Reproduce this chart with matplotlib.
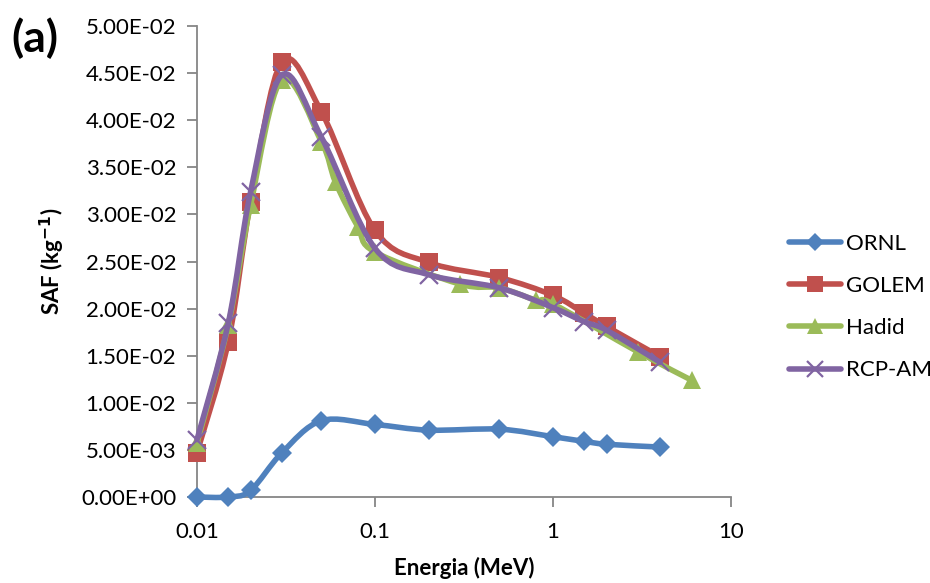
import numpy as np
import matplotlib
matplotlib.use("Agg")
import matplotlib.pyplot as plt
from matplotlib.path import Path
from matplotlib.patches import PathPatch
from matplotlib.lines import Line2D
from matplotlib.ticker import FixedLocator, FixedFormatter, NullLocator

plt.rcParams['font.family'] = ['Lato', 'DejaVu Sans']

# photon energies (MeV) and SAF values (kg^-1)
energy = [0.01, 0.015, 0.02, 0.03, 0.05, 0.1, 0.2, 0.5, 1, 1.5, 2, 4]
ornl = [0.0, 0.0, 0.0007, 0.0047, 0.0081, 0.0077, 0.0071, 0.0072, 0.0064, 0.0059, 0.0056, 0.0053]
golem = [0.0047, 0.0165, 0.0313, 0.0462, 0.0409, 0.0283, 0.0249, 0.0233, 0.0214, 0.0195, 0.0181, 0.0149]
rcp_am = [0.0061, 0.0185, 0.0324, 0.0448, 0.0382, 0.0264, 0.0236, 0.0222, 0.0201, 0.0186, 0.0177, 0.0143]

energy_hadid = [0.01, 0.015, 0.02, 0.03, 0.05, 0.06, 0.08, 0.1, 0.3, 0.5, 0.8, 1, 3, 6]
hadid = [0.0057, 0.0183, 0.031, 0.0443, 0.0377, 0.0334, 0.0287, 0.0260, 0.0226, 0.0222, 0.0209, 0.0205, 0.0154, 0.0124]

x_ticks = [0.01, 0.1, 1, 10]
x_labels = ['0.01', '0.1', '1', '10']
y_ticks = np.arange(0, 0.0501, 0.005)


def smooth_path(xs, ys):
    # Bezier curve through the points, built in log10(x) space
    p = np.column_stack([np.log10(xs), ys])
    n = len(p)
    verts = [p[0]]
    codes = [Path.MOVETO]
    for i in range(n - 1):
        prev = p[i - 1] if i > 0 else p[i]
        nxt = p[i + 2] if i + 2 < n else p[i + 1]
        c1 = p[i] + (p[i + 1] - prev) / 6.0
        c2 = p[i + 1] - (nxt - p[i]) / 6.0
        verts += [c1, c2, p[i + 1]]
        codes += [Path.CURVE4] * 3
    verts = np.array(verts)
    verts[:, 0] = 10 ** verts[:, 0]
    return Path(verts, codes)


series = [
    ('ORNL', energy, ornl, '#4F81BD', 'D', 10.5),
    ('GOLEM', energy, golem, '#C0504D', 's', 13.5),
    ('Hadid', energy_hadid, hadid, '#9BBB59', '^', 13.5),
    ('RCP-AM', energy, rcp_am, '#8064A2', 'x', 13.5),
]

fig = plt.figure(figsize=(9.3, 5.83), dpi=100)
ax = fig.add_axes([197 / 930, 1 - 497 / 583, (731 - 197) / 930, (497 - 26) / 583])
ax.set_xscale('log')
ax.set_xlim(0.01, 10)
ax.set_ylim(0, 0.05)

handles = []
for k, (name, xs, ys, col, mk, ms) in enumerate(series):
    z = 3 + 2 * k
    ax.add_patch(PathPatch(smooth_path(xs, ys), facecolor='none', edgecolor=col,
                           lw=4.0, capstyle='round', joinstyle='round',
                           zorder=z, clip_on=False))
    ax.plot(xs, ys, linestyle='none', marker=mk, ms=ms, mew=1.6 if mk == 'x' else 0,
            color=col, zorder=z + 1, clip_on=False)
    handles.append(Line2D([], [], color=col, lw=4.0, marker=mk, ms=ms * 0.85,
                          mew=1.6 if mk == 'x' else 0, solid_capstyle='round'))

for side in ['top', 'right']:
    ax.spines[side].set_visible(False)
for side in ['left', 'bottom']:
    ax.spines[side].set_color('#868686')
    ax.spines[side].set_linewidth(1.3)

ax.xaxis.set_major_locator(FixedLocator(x_ticks))
ax.xaxis.set_major_formatter(FixedFormatter(x_labels))
ax.xaxis.set_minor_locator(NullLocator())
ax.set_yticks(y_ticks)
ax.set_yticklabels(['%.2fE%+03d' % (v / 10 ** np.floor(np.log10(v)), np.floor(np.log10(v)))
                    if v > 0 else '0.00E+00' for v in y_ticks])
ax.tick_params(axis='both', direction='out', length=7, width=1.3, color='#868686',
               labelsize=16, labelcolor='black')
ax.tick_params(axis='y', pad=8)
ax.tick_params(axis='x', pad=11)

ax.set_xlabel('Energia (MeV)', fontsize=16, fontweight='bold', labelpad=11)
ax.set_ylabel('SAF (kg$^{\\mathbf{-1}}$)', fontsize=16, fontweight='bold', labelpad=10)

fig.text(11 / 930, 1 - 38 / 583, '(a)', fontsize=32, fontweight='bold', va='center', ha='left')

fig.legend(handles, [s[0] for s in series], loc='center left',
           bbox_to_anchor=(780 / 930, 1 - 307 / 583), frameon=False, fontsize=16,
           handlelength=2.35, handletextpad=0.2, labelspacing=1.0, borderaxespad=0)

fig.savefig('out.png', dpi=100)
